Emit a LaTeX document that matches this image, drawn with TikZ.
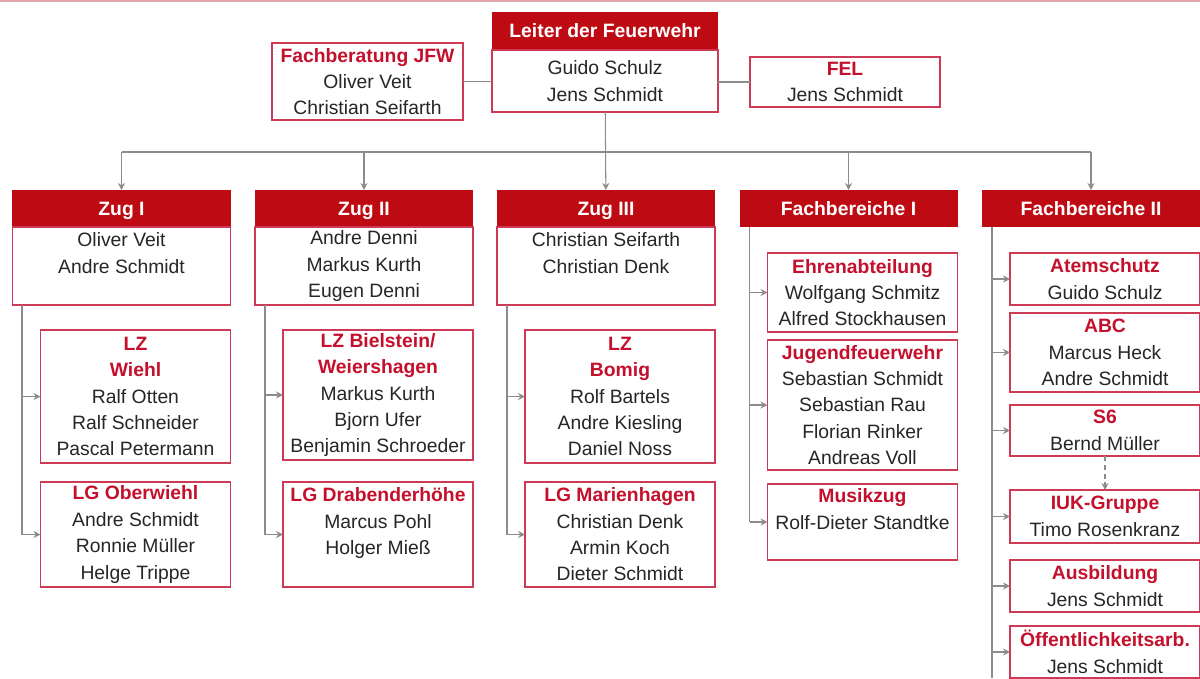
\documentclass[tikz,border=0pt]{standalone}
\usepackage{fontspec}
\setmainfont{Liberation Sans}
\usetikzlibrary{arrows.meta}
\usetikzlibrary{positioning}

\definecolor{fwred}{HTML}{C4102C}
\definecolor{fwhead}{HTML}{BE0A12}
\definecolor{fwframe}{HTML}{CC3A55}
\definecolor{fwgrey}{HTML}{8C8C8C}
\definecolor{fwtop}{HTML}{E3A3AC}

\begin{document}
\begin{tikzpicture}[
        every node/.style={font=\fontsize{11}{15}\selectfont, inner sep=0pt, outer sep=0pt, align=center, text=black!85},
        head/.style={fill=fwhead, text=white, font=\fontsize{11}{15}\selectfont\bfseries, text height=9.5pt, text depth=2pt, minimum width=4.36cm, minimum height=0.74cm},
        body/.style={draw=fwframe, line width=0.6pt, fill=white, minimum width=4.36cm},
        unit/.style={draw=fwframe, line width=0.6pt, fill=white, minimum width=3.8cm},
        link/.style={draw=fwgrey, line width=0.6pt},
        arr/.style={link, -{Stealth[length=4pt,width=4pt]}}
    ]
                \useasboundingbox (0,0) rectangle (24,-13.56);
                \draw[fwtop, line width=1pt] (0,-0.02) -- (24,-0.02);
                % top row
                \node[head, minimum width=4.52cm, minimum height=0.76cm] (leiterH) at (12.1,-0.62) {Leiter der Feuerwehr};
                \node[body, minimum width=4.52cm, minimum height=1.24cm, below=0pt of leiterH] (leiter) {Guido Schulz\\Jens Schmidt};
                \node[unit, minimum width=3.82cm, minimum height=1.54cm] (jfw) at (7.35,-1.63) {\textcolor{fwred}{\textbf{Fachberatung JFW}}\\Oliver Veit\\Christian Seifarth};
                \node[unit, minimum height=1.0cm] (fel) at (16.9,-1.64) {\textcolor{fwred}{\textbf{FEL}}\\Jens Schmidt};
                % columns
                \node[head] (zugIH) at (2.43,-4.17) {Zug I};
                \node[head] (zugIIH) at (7.28,-4.17) {Zug II};
                \node[head] (zugIIIH) at (12.12,-4.17) {Zug III};
                \node[head] (fbIH) at (16.97,-4.17) {Fachbereiche I};
                \node[head] (fbIIH) at (21.82,-4.17) {Fachbereiche II};
                \node[body, minimum height=1.56cm, below=0pt of zugIH] (zugI) {Oliver Veit\\Andre Schmidt\\~};
                \node[body, minimum height=1.56cm, below=0pt of zugIIH] (zugII) {Andre Denni\\Markus Kurth\\Eugen Denni};
                \node[body, minimum height=1.56cm, below=0pt of zugIIIH] (zugIII) {Christian Seifarth\\Christian Denk\\~};
                % Zug I
                \node[unit, minimum height=2.66cm] (lzWiehl) at (2.71,-7.93) {\textcolor{fwred}{\textbf{LZ}}\\\textcolor{fwred}{\textbf{Wiehl}}\\Ralf Otten\\Ralf Schneider\\Pascal Petermann};
                \node[unit, minimum height=2.1cm] (lgOberwiehl) at (2.71,-10.69) {\textcolor{fwred}{\textbf{LG Oberwiehl}}\\Andre Schmidt\\Ronnie Müller\\Helge Trippe};
                % Zug II
                \node[unit, minimum height=2.6cm] (lzBielstein) at (7.56,-7.9) {\textcolor{fwred}{\textbf{LZ Bielstein/}}\\\textcolor{fwred}{\textbf{Weiershagen}}\\Markus Kurth\\Bjorn Ufer\\Benjamin Schroeder};
                \node[unit, minimum height=2.1cm] (lgDraben) at (7.56,-10.69) {\textcolor{fwred}{\textbf{LG Drabenderhöhe}}\\Marcus Pohl\\Holger Mieß\\~};
                % Zug III
                \node[unit, minimum height=2.66cm] (lzBomig) at (12.4,-7.93) {\textcolor{fwred}{\textbf{LZ}}\\\textcolor{fwred}{\textbf{Bomig}}\\Rolf Bartels\\Andre Kiesling\\Daniel Noss};
                \node[unit, minimum height=2.1cm] (lgMarien) at (12.4,-10.69) {\textcolor{fwred}{\textbf{LG Marienhagen}}\\Christian Denk\\Armin Koch\\Dieter Schmidt};
                % Fachbereiche I
                \node[unit, minimum height=1.58cm] (ehren) at (17.25,-5.85) {\textcolor{fwred}{\textbf{Ehrenabteilung}}\\Wolfgang Schmitz\\Alfred Stockhausen};
                \node[unit, minimum height=2.6cm] (jfwehr) at (17.25,-8.1) {\textcolor{fwred}{\textbf{Jugendfeuerwehr}}\\Sebastian Schmidt\\Sebastian Rau\\Florian Rinker\\Andreas Voll};
                \node[unit, minimum height=1.52cm] (musik) at (17.25,-10.44) {\textcolor{fwred}{\textbf{Musikzug}}\\Rolf-Dieter Standtke\\~};
                % Fachbereiche II
                \node[unit, minimum height=1.04cm] (atem) at (22.1,-5.58) {\textcolor{fwred}{\textbf{Atemschutz}}\\Guido Schulz};
                \node[unit, minimum height=1.58cm] (abc) at (22.1,-7.05) {\textcolor{fwred}{\textbf{ABC}}\\Marcus Heck\\Andre Schmidt};
                \node[unit, minimum height=1.02cm] (sechs) at (22.1,-8.61) {\textcolor{fwred}{\textbf{S6}}\\Bernd Müller};
                \node[unit, minimum height=1.06cm] (iuk) at (22.1,-10.33) {\textcolor{fwred}{\textbf{IUK-Gruppe}}\\Timo Rosenkranz};
                \node[unit, minimum height=1.04cm] (ausb) at (22.1,-11.72) {\textcolor{fwred}{\textbf{Ausbildung}}\\Jens Schmidt};
                \node[unit, minimum height=1.04cm] (oeff) at (22.1,-13.04) {\textcolor{fwred}{\textbf{Öffentlichkeitsarb.}}\\Jens Schmidt};
                % trunks
                \coordinate (busL) at (2.43,-3.04);
                \coordinate (busR) at (21.82,-3.04);
                \coordinate (zugIT) at (0.44,-6.1);
                \coordinate (zugIIT) at (5.3,-6.1);
                \coordinate (zugIIIT) at (10.14,-6.1);
                \coordinate (fbIT) at (14.99,-4.54);
                \coordinate (fbIIT) at (19.84,-4.54);
                % connectors
                \draw[link] (jfw.east) -- (jfw.east -| leiter.west);
                \draw[link] (leiter.east |- fel.west) -- (fel.west);
                \draw[link] (busL) -- (busR);
                \draw[arr] (leiter) -- (zugIIIH);
                \draw[arr] (busL) -- (zugIH);
                \draw[arr] (zugIIH.north |- busL) -- (zugIIH);
                \draw[arr] (fbIH.north |- busL) -- (fbIH);
                \draw[arr] (busR) -- (fbIIH);
                \draw[link] (zugIT) -- (zugIT |- lgOberwiehl.west);
                \draw[arr] (zugIT |- lzWiehl.west) -- (lzWiehl);
                \draw[arr] (zugIT |- lgOberwiehl.west) -- (lgOberwiehl);
                \draw[link] (zugIIT) -- (zugIIT |- lgDraben.west);
                \draw[arr] (zugIIT |- lzBielstein.west) -- (lzBielstein);
                \draw[arr] (zugIIT |- lgDraben.west) -- (lgDraben);
                \draw[link] (zugIIIT) -- (zugIIIT |- lgMarien.west);
                \draw[arr] (zugIIIT |- lzBomig.west) -- (lzBomig);
                \draw[arr] (zugIIIT |- lgMarien.west) -- (lgMarien);
                \draw[link] (fbIT) -- (fbIT |- musik.west);
                \draw[arr] (fbIT |- ehren.west) -- (ehren);
                \draw[arr] (fbIT |- jfwehr.west) -- (jfwehr);
                \draw[arr] (fbIT |- musik.west) -- (musik);
                \draw[link] (fbIIT) -- (fbIIT |- oeff.south);
                \draw[arr] (fbIIT |- atem.west) -- (atem);
                \draw[arr] (fbIIT |- abc.west) -- (abc);
                \draw[arr] (fbIIT |- sechs.west) -- (sechs);
                \draw[arr] (fbIIT |- iuk.west) -- (iuk);
                \draw[arr] (fbIIT |- ausb.west) -- (ausb);
                \draw[arr] (fbIIT |- oeff.west) -- (oeff);
                \draw[arr, densely dashed] (sechs) -- (iuk);
\end{tikzpicture}
\end{document}
